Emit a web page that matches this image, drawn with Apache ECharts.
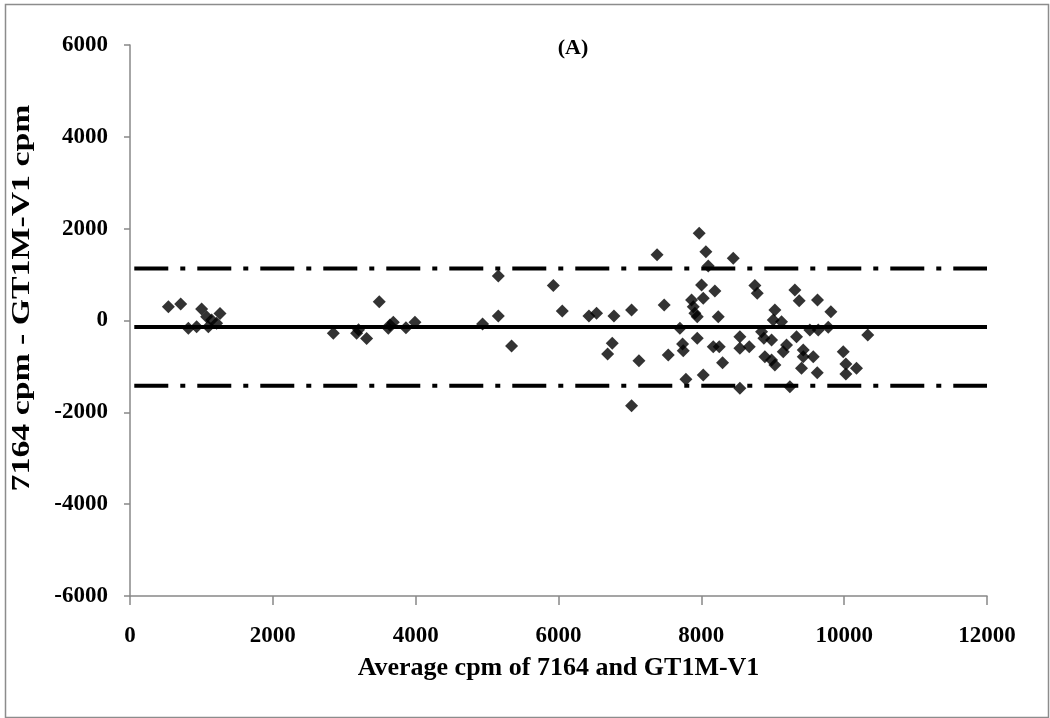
<!DOCTYPE html>
<html>
<head>
<meta charset="utf-8">
<script src="https://cdn.jsdelivr.net/npm/echarts@6/dist/echarts.min.js"></script>
<style>html,body{margin:0;padding:0;background:#fff}#c{width:1050px;height:718px}</style>
</head>
<body>
<div id="c"></div>
<script>
var xTicks = [0, 2000, 4000, 6000, 8000, 10000, 12000];
var yTicks = [-6000, -4000, -2000, 0, 2000, 4000, 6000];

var avgX = [
 537, 710, 817, 933, 1003, 1073, 1097, 1143, 1213, 1260,
 2847, 3173, 3200, 3313, 3490, 3617, 3640, 3687, 3864, 3990,
 4937, 5157, 5157, 5343, 5927, 6053, 6426, 6533, 6776, 6753, 6688, 7023, 7126, 7023, 7480, 7537,
 7380, 7970, 8064, 8447, 8097, 8003, 8190, 8750, 8783, 7863, 8027, 7887, 7910, 7943, 8237,
 7700, 7943, 7737, 7747, 8167, 8251, 8297, 8540, 8540, 8671, 8843, 8876, 8890, 7784, 8027, 8540,
 9310, 9370, 9627, 9814, 9030, 9007, 9123, 9520, 9637, 9777, 10330, 8983, 9030, 8983, 9193, 9147,
 9333, 9427, 9567, 9427, 9403, 9623, 9987, 10024, 10173, 10024, 9240
];
var diffY = [
 300, 360, -170, -135, 250, 80, -135, 10, -60, 155,
 -280, -280, -200, -390, 410, -170, -100, -40, -157, -40,
 -76, 970, 98, -555, 760, 207, 98, 157, 98, -497, -730, 230, -875, -1855, 337, -750,
 1430, 1900, 1500, 1355, 1187, 773, 643, 760, 593, 447, 483, 300, 157, 83, 83,
 -170, -388, -512, -657, -570, -570, -918, -352, -606, -570, -243, -388, -788, -1281, -1187, -1477,
 664, 432, 447, 192, 229, 11, -26, -207, -207, -149, -316, -425, -969, -860, -534, -679,
 -352, -643, -788, -788, -1041, -1136, -679, -947, -1041, -1165, -1441
];

var meanDiff = -140;
var upperLoA = 1130;
var lowerLoA = -1420;
var lineX = [60, 12000];
var yTitle = '7164 cpm - GT1M-V1 cpm';
var xTitle = 'Average cpm of 7164 and GT1M-V1';

var points = avgX.map(function (x, i) { return [x, diffY[i]]; });
function hline(v) { return lineX.map(function (x) { return [x, v]; }); }

var serif = '"Liberation Serif", "DejaVu Serif", serif';
var chart = echarts.init(document.getElementById('c'));
chart.setOption({
  animation: false,
  backgroundColor: '#fff',
  graphic: [{
    type: 'rect', left: 3, top: 2,
    shape: { width: 1043, height: 713 },
    style: { fill: 'none', stroke: '#8c8c8c', lineWidth: 1.5 }
  }, {
    type: 'text', x: 22, y: 298, rotation: Math.PI / 2, scaleX: 1.3,
    style: { text: yTitle, fill: '#000', align: 'center', verticalAlign: 'middle',
      font: 'bold 26px "Liberation Serif", serif' }
  }],
  title: {
    text: '(A)', left: 568, top: 32, textAlign: 'center',
    textStyle: { fontFamily: serif, fontWeight: 'bold', fontSize: 22, color: '#000' }
  },
  grid: { left: 130, right: 63, top: 45, bottom: 122 },
  xAxis: {
    type: 'value', min: 0, max: 12000, interval: 2000,
    name: xTitle, nameLocation: 'middle', nameGap: 59,
    nameTextStyle: { fontFamily: serif, fontWeight: 'bold', fontSize: 26, color: '#000' },
    axisLine: { onZero: false, lineStyle: { color: '#888', width: 1.5 } },
    axisTick: { show: true, length: 9, lineStyle: { color: '#888', width: 1.5 } },
    axisLabel: { fontFamily: serif, fontWeight: 'bold', fontSize: 23, color: '#000', margin: 29,
      formatter: function (v) { return xTicks.indexOf(v) >= 0 ? String(v) : ''; } },
    splitLine: { show: false }
  },
  yAxis: {
    type: 'value', min: -6000, max: 6000, interval: 2000,
    axisLine: { show: true, onZero: false, lineStyle: { color: '#888', width: 1.5 } },
    axisTick: { show: true, length: 6, lineStyle: { color: '#888', width: 1.5 } },
    axisLabel: { fontFamily: serif, fontWeight: 'bold', fontSize: 23, color: '#000', margin: 22,
      formatter: function (v) { return yTicks.indexOf(v) >= 0 ? String(v) : ''; } },
    splitLine: { show: false }
  },
  series: [
    { type: 'line', data: hline(meanDiff), symbol: 'none', silent: true,
      lineStyle: { color: '#000', width: 4 }, z: 2 },
    { type: 'line', data: hline(upperLoA), symbol: 'none', silent: true,
      lineStyle: { color: '#000', width: 4, type: [34, 12, 5, 12] }, z: 2 },
    { type: 'line', data: hline(lowerLoA), symbol: 'none', silent: true,
      lineStyle: { color: '#000', width: 4, type: [34, 12, 5, 12] }, z: 2 },
    { type: 'scatter', data: points, symbol: 'diamond', symbolSize: 13,
      itemStyle: { color: '#000' }, z: 3 }
  ]
});
</script>
</body>
</html>
